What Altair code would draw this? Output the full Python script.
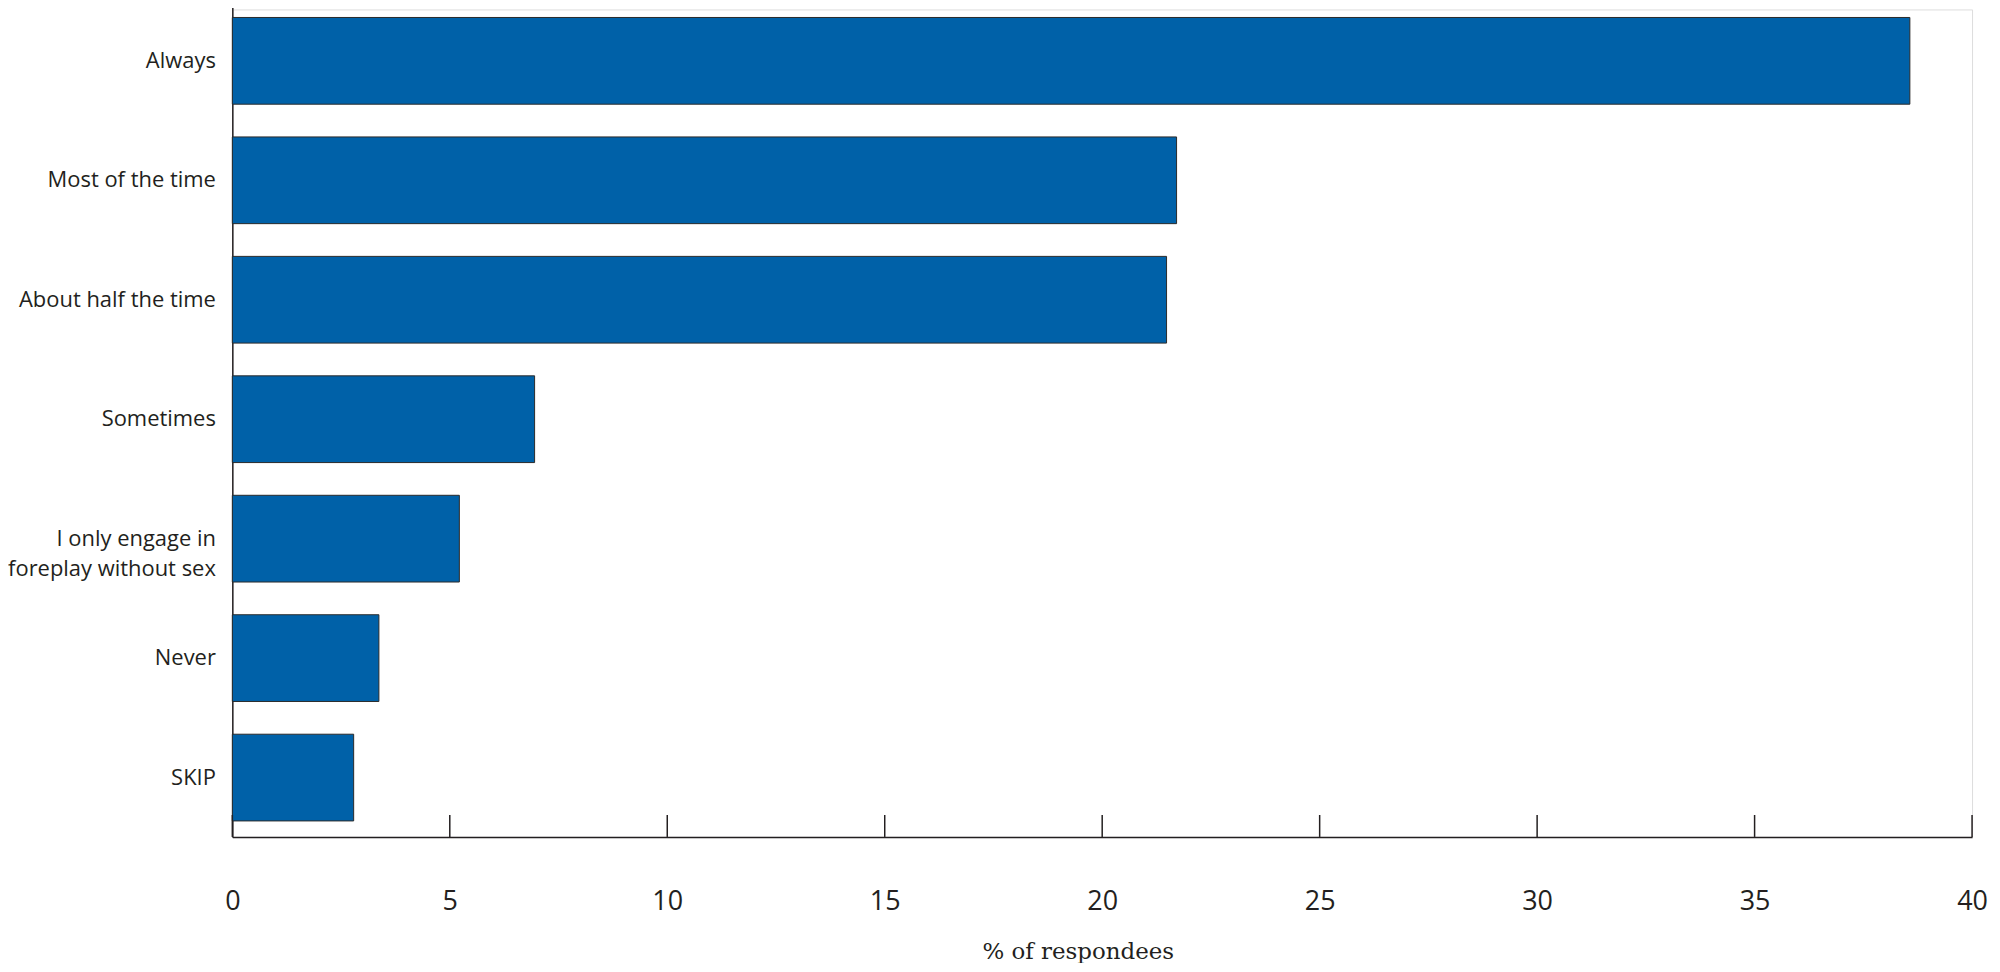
import altair as alt
import pandas as pd

categories = ["Always", "Most of the time", "About half the time", "Sometimes",
              "I only engage in\nforeplay without sex", "Never", "SKIP"]
values = [38.57, 21.71, 21.48, 6.95, 5.22, 3.37, 2.79]
tick_values = [0, 5, 10, 15, 20, 25, 30, 35, 40]

W, H = 1745, 830

df = pd.DataFrame({"cat": categories, "pct": values})
ticks_df = pd.DataFrame({"pct": tick_values})

x_axis = alt.Axis(
    values=tick_values, ticks=False, tickSize=0, grid=False,
    domainColor="#231f20", domainWidth=1.5,
    labelFont="Open Sans", labelFontSize=27, labelColor="#231f20",
    labelPadding=52, labelFlush=False,
    title="% of respondees", titleFont="DejaVu Serif", titleFontSize=23,
    titleFontWeight="normal", titleColor="#231f20", titlePadding=26,
    titleX=848, titleAlign="center",
)
x_scale = alt.Scale(domain=[0, 40], nice=False)

bars = alt.Chart(df).mark_bar(
    color="#0061a8", stroke="#2a2a2a", strokeWidth=1
).encode(
    x=alt.X("pct:Q", scale=x_scale, axis=x_axis),
    y=alt.Y("cat:N", sort=categories,
            scale=alt.Scale(range=[-8, H], paddingInner=0.274, paddingOuter=0.134),
            axis=alt.Axis(
                title=None, ticks=False, domainColor="#231f20", domainWidth=1.5,
                labelFont="Open Sans", labelFontSize=22, labelColor="#231f20",
                labelPadding=17, labelLimit=400, labelLineHeight=30,
                labelExpr="split(datum.label, '\\n')",
            )),
)

tick_marks = alt.Chart(ticks_df).mark_rule(color="#231f20", strokeWidth=1.5).encode(
    x=alt.X("pct:Q", scale=x_scale, axis=x_axis),
    y=alt.value(H - 22),
    y2=alt.value(H),
)

chart = alt.layer(bars, tick_marks).properties(
    width=W, height=H,
    autosize=alt.AutoSizeParams(type="none"),
    padding={"left": 225, "top": 0, "right": 20, "bottom": 125},
).configure_view(stroke=None).configure(background="white")

chart.save("out.html", embed_options={"renderer": "svg", "actions": False})
